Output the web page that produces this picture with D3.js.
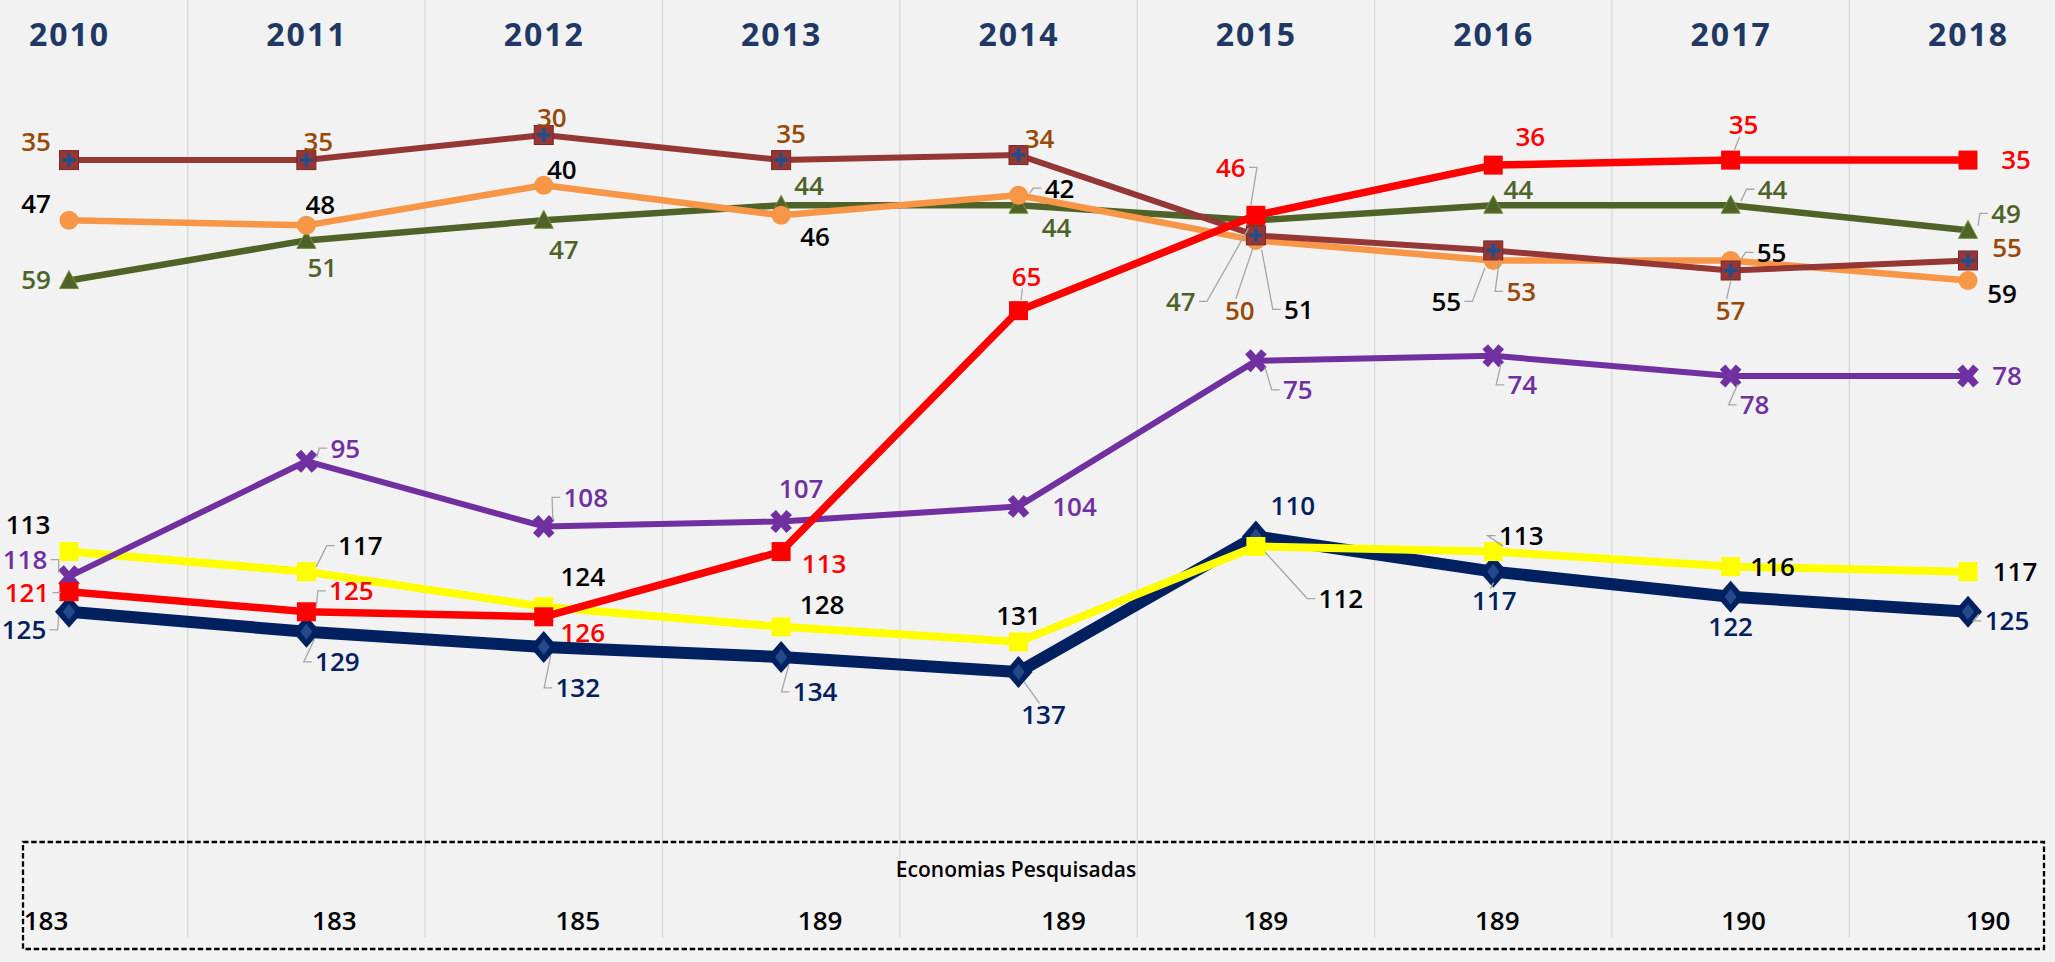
<!DOCTYPE html>
<html>
<head>
<meta charset="utf-8">
<script src="https://cdn.jsdelivr.net/npm/d3@7"></script>
<style>
    html, body { margin: 0; padding: 0; background: #f2f2f2; }
    svg { display: block; font-family: "Open Sans", "Noto Sans", sans-serif; }
</style>
</head>
<body>
<svg id="chart" width="2055" height="962"></svg>
<script>
// Data
const years = ["2010", "2011", "2012", "2013", "2014", "2015", "2016", "2017", "2018"];
const economias = [183, 183, 185, 189, 189, 189, 189, 190, 190];

const brownValues  = [35, 35, 30, 35, 34, 50, 53, 57, 55];
const orangeValues = [47, 48, 40, 46, 42, 51, 55, 55, 59];
const greenValues  = [59, 51, 47, 44, 44, 47, 44, 44, 49];
const redValues    = [121, 125, 126, 113, 65, 46, 36, 35, 35];
const purpleValues = [118, 95, 108, 107, 104, 75, 74, 78, 78];
const yellowValues = [113, 117, 124, 128, 131, 112, 113, 116, 117];
const navyValues   = [125, 129, 132, 134, 137, 110, 117, 122, 125];

// Label placement (offset from the marker, leader line flag)
const brownLabels  = [[-33,-18,0],[12,-18,0],[8,-17,0],[10,-26,0],[21,-16,0],[-16,75,1],[28,41,1],[0,40,1],[39,-13,0]];
const orangeLabels = [[-33,-17,0],[14,-21,0],[18,-16,0],[34,21,0],[41,-7,1],[43,69,1],[-47,41,1],[41,-8,1],[34,13,0]];
const greenLabels  = [[-33,-1,0],[16,27,0],[20,29,0],[28,-20,0],[38,22,0],[-75,81,1],[25,-16,0],[42,-16,1],[38,-17,1]];
const redLabels    = [[-42,1,1],[45,-21,1],[39,16,0],[43,12,0],[8,-34,1],[-25,-48,1],[37,-28,0],[13,-35,1],[48,0,0]];
const purpleLabels = [[-44,-17,1],[39,-13,1],[42,-29,1],[20,-33,0],[56,0,0],[42,29,1],[29,29,1],[24,29,1],[39,0,0]];
const yellowLabels = [[-41,-27,0],[54,-26,1],[39,-30,0],[41,-22,0],[0,-26,0],[85,52,1],[28,-16,1],[42,0,0],[47,0,0]];
const navyLabels   = [[-45,18,1],[31,30,1],[34,41,1],[34,35,1],[25,43,1],[37,-31,0],[1,29,1],[0,30,0],[39,9,1]];
const economiasDx  = [-23, 28, 34, 39, 45, 10, 4, 13, 20];

const series = [
    { values: navyValues, labels: navyLabels, color: "#002060", width: 12, marker: "diamond", labelColor: "#002060" },
    { values: yellowValues, labels: yellowLabels, color: "#ffff00", width: 8, marker: "square", labelColor: "#000000" },
    { values: purpleValues, labels: purpleLabels, color: "#7030a0", width: 6, marker: "x", labelColor: "#7030a0" },
    { values: greenValues, labels: greenLabels, color: "#4f6228", width: 6.5, marker: "triangle", labelColor: "#4f6228" },
    { values: orangeValues, labels: orangeLabels, color: "#f79646", width: 6.5, marker: "circle", labelColor: "#000000" },
    { values: brownValues, labels: brownLabels, color: "#953735", width: 6, marker: "squarePlus", labelColor: "#984807" },
    { values: redValues, labels: redLabels, color: "#ff0000", width: 7.5, marker: "square", labelColor: "#ff0000" }
];

// Setup
const svg = d3.select("#chart");
const width = +svg.attr("width");
const height = +svg.attr("height");
const labelSize = 26;

svg.append("rect")
    .attr("width", width)
    .attr("height", height)
    .attr("fill", "#f2f2f2");

const x = d3.scalePoint().domain(years).range([69, 1968]);
const y = d3.scaleLinear().domain([30, 137]).range([135, 672]);

// Vertical gridlines between years
const gridX = d3.pairs(years).map(([a, b]) => (x(a) + x(b)) / 2);
svg.append("g")
    .selectAll("line")
    .data(gridX)
    .join("line")
    .attr("x1", d => d)
    .attr("x2", d => d)
    .attr("y1", 0)
    .attr("y2", 937)
    .attr("stroke", "#d9d9d9")
    .attr("stroke-width", 1.3);

// Year labels on top
const topAxis = svg.append("g")
    .attr("transform", "translate(0,46)")
    .call(d3.axisTop(x).tickSize(0).tickPadding(0));
topAxis.select(".domain").remove();
topAxis.selectAll("text")
    .attr("font-family", "'Open Sans', sans-serif")
    .attr("font-size", 32)
    .attr("font-weight", "bold")
    .attr("letter-spacing", 2)
    .attr("fill", "#1f3864");

// Lines
const line = d3.line()
    .x((d, i) => x(years[i]))
    .y(d => y(d));

series.forEach(s => {
    svg.append("path")
        .datum(s.values)
        .attr("fill", "none")
        .attr("stroke", s.color)
        .attr("stroke-width", s.width)
        .attr("stroke-linejoin", "round")
        .attr("d", line);

    const marks = svg.append("g")
        .selectAll("g")
        .data(s.values)
        .join("g")
        .attr("transform", (d, i) => `translate(${x(years[i])},${y(d)})`);

    drawMarker(marks, s);
});

// Leader lines and data labels
series.forEach(s => {
    const pts = s.values.map((v, i) => {
        const [dx, dy, leader] = s.labels[i];
        return { v, cx: x(years[i]), cy: y(v), lx: x(years[i]) + dx, ly: y(v) + dy, leader };
    });

    svg.append("g")
        .selectAll("path")
        .data(pts.filter(p => p.leader))
        .join("path")
        .attr("fill", "none")
        .attr("stroke", "#a6a6a6")
        .attr("stroke-width", 1.3)
        .attr("d", p => leaderPath(p));

    svg.append("g")
        .selectAll("text")
        .data(pts)
        .join("text")
        .attr("x", p => p.lx)
        .attr("y", p => p.ly)
        .attr("dy", "0.36em")
        .attr("text-anchor", "middle")
        .attr("font-size", labelSize)
        .attr("font-weight", 600)
        .attr("fill", s.labelColor)
        .text(p => p.v);
});

// Economias Pesquisadas box
svg.append("rect")
    .attr("x", 23)
    .attr("y", 842)
    .attr("width", 2021)
    .attr("height", 107)
    .attr("fill", "none")
    .attr("stroke", "#000")
    .attr("stroke-width", 2.3)
    .attr("stroke-dasharray", "5.5,2.7");

svg.append("text")
    .attr("x", 1016)
    .attr("y", 869)
    .attr("dy", "0.36em")
    .attr("text-anchor", "middle")
    .attr("font-size", 21)
    .attr("font-weight", 600)
    .attr("fill", "#000")
    .text("Economias Pesquisadas");

svg.append("g")
    .selectAll("text")
    .data(economias)
    .join("text")
    .attr("x", (d, i) => x(years[i]) + economiasDx[i])
    .attr("y", 921)
    .attr("dy", "0.36em")
    .attr("text-anchor", "middle")
    .attr("font-size", labelSize)
    .attr("font-weight", 600)
    .attr("fill", "#000")
    .text(d => d);

// Marker shapes
function drawMarker(g, s) {
    if (s.marker === "diamond") {
        g.append("path")
            .attr("d", "M0,-16L14,0L0,16L-14,0Z")
            .attr("fill", s.color);
        g.append("path")
            .attr("d", "M0,-8L6,0L0,8L-6,0Z")
            .attr("fill", "#2e5597")
            .attr("opacity", 0.8);
    } else if (s.marker === "square") {
        g.append("rect")
            .attr("x", -9.5).attr("y", -9.5)
            .attr("width", 19).attr("height", 19)
            .attr("fill", s.color);
    } else if (s.marker === "squarePlus") {
        g.append("rect")
            .attr("x", -9.5).attr("y", -9.5)
            .attr("width", 19).attr("height", 19)
            .attr("fill", s.color)
            .attr("stroke", "#7a2624")
            .attr("stroke-width", 1);
        g.append("path")
            .attr("d", "M-7,0H7M0,-7V7")
            .attr("stroke", "#1f4e8c")
            .attr("stroke-width", 3.5);
    } else if (s.marker === "circle") {
        g.append("circle")
            .attr("r", 9.5)
            .attr("fill", s.color);
    } else if (s.marker === "triangle") {
        g.append("path")
            .attr("d", "M0,-10L9.5,8L-9.5,8Z")
            .attr("fill", s.color)
            .attr("stroke", "#76923c")
            .attr("stroke-width", 1);
    } else if (s.marker === "x") {
        g.append("path")
            .attr("d", "M-8,-9L8,9M8,-9L-8,9")
            .attr("stroke", s.color)
            .attr("stroke-width", 7.5);
    }
}

// Leader line from marker to the near side of the label
function leaderPath(p) {
    const text = String(p.v);
    const hw = text.length * 0.58 * labelSize / 2 + 3;
    const hh = 0.45 * labelSize;
    const dx = p.lx - p.cx;
    const dy = p.ly - p.cy;
    const len = Math.hypot(dx, dy) || 1;
    const sx = p.cx + dx / len * 11;
    const sy = p.cy + dy / len * 11;
    if (Math.abs(dx) > hw) {
        const side = dx > 0 ? -1 : 1;
        const ex = p.lx + side * hw;
        return `M${sx},${sy}L${ex + side * 8},${p.ly}L${ex},${p.ly}`;
    }
    const ey = p.ly + (dy > 0 ? -hh : hh);
    return `M${sx},${sy}L${p.lx - 4},${ey}`;
}
</script>
</body>
</html>
